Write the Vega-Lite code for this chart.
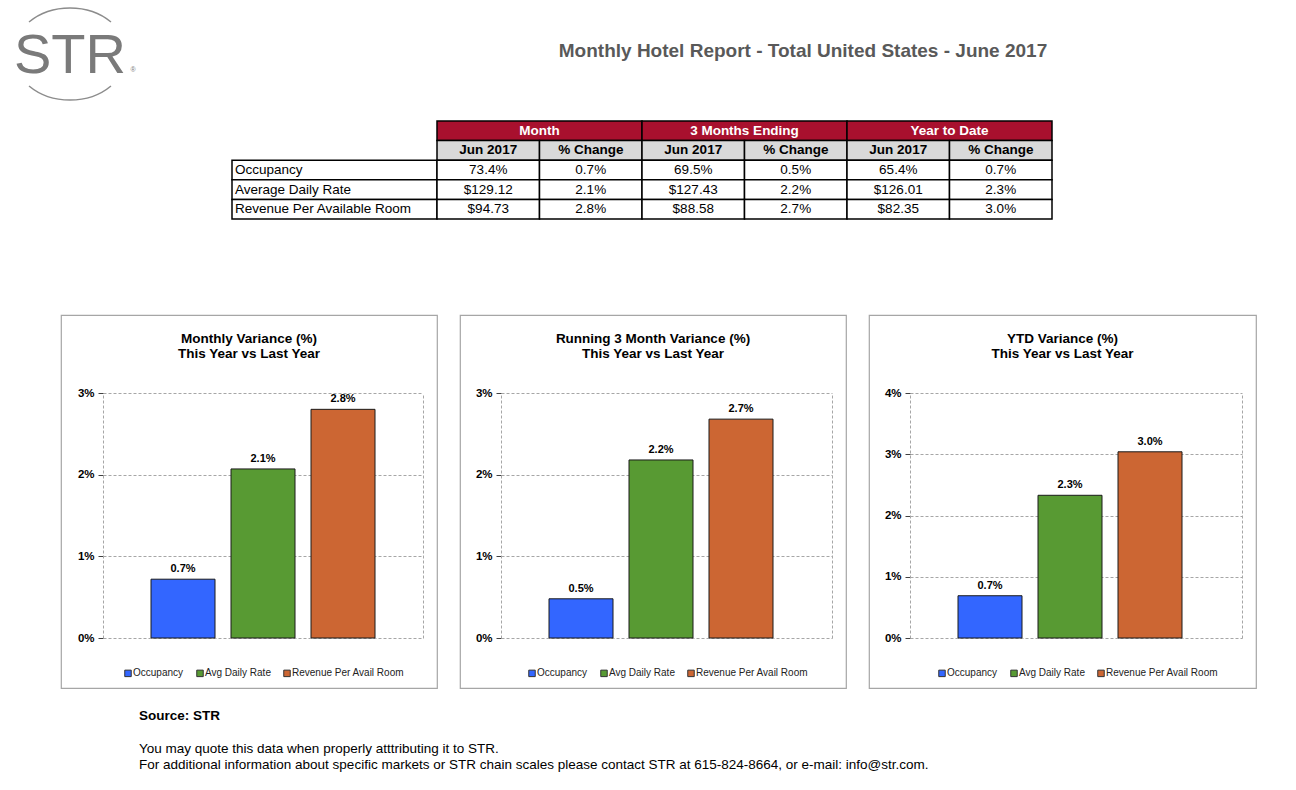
{
  "$schema": "https://vega.github.io/schema/vega-lite/v6.json",
  "padding": 0,
  "background": "white",
  "spacing": 12,
  "bounds": "full",
  "config": {
    "view": {"stroke": null},
    "font": "Liberation Sans",
    "title": {"fontSize": 13.5, "fontWeight": "bold", "color": "black", "lineHeight": 15}
  },
  "vconcat": [
    {
      "hconcat": [
        {
          "width": 140, "height": 108,
          "data": {"values": [{"name": "STR"}]},
          "layer": [
            {"mark": {"type": "point", "shape": "M-0.719,-0.561 A1,0.807 0 0,1 0.719,-0.561 M-0.719,0.561 A1,0.807 0 0,0 0.719,0.561", "size": 12996, "filled": false, "stroke": "#8c8c8c", "strokeWidth": 1.5, "opacity": 1}, "encoding": {}},
            {"mark": {"type": "text", "fontSize": 56, "baseline": "alphabetic", "dy": 19, "color": "#7a7a7a"}, "encoding": {"text": {"field": "name"}}},
            {"mark": {"type": "text", "text": "®", "fontSize": 7, "dx": 63, "dy": 16, "color": "#7a7a7a"}, "encoding": {}}
          ]
        },
        {
          "width": 986, "height": 102,
          "data": {"values": [{"t": "Monthly Hotel Report - Total United States - June 2017"}]},
          "mark": {"type": "text", "fontSize": 19, "fontWeight": "bold", "color": "#595959"},
          "encoding": {"text": {"field": "t"}}
        }
      ],
      "spacing": 170,
      "bounds": "flush"
    },
    {
      "hconcat": [
        {"width": 232, "height": 1, "data": {"values": []}, "mark": "point"},
        {
          "width": 205, "height": 181,
          "data": {"values": [
            {"row": "r1", "label": "Occupancy"},
            {"row": "r2", "label": "Average Daily Rate"},
            {"row": "r3", "label": "Revenue Per Available Room"}
          ]},
          "encoding": {"y": {"field": "row", "type": "nominal", "scale": {"domain": ["g", "h", "r1", "r2", "r3"], "range": [0, 98], "paddingInner": 0, "paddingOuter": 0}, "axis": null}},
          "layer": [
            {"mark": {"type": "rect", "fill": "white", "stroke": "black", "strokeWidth": 1.5},
             "encoding": {"x": {"datum": "lbl", "type": "nominal", "scale": {"paddingInner": 0, "paddingOuter": 0}, "axis": null}}},
            {"mark": {"type": "text", "align": "left", "dx": 3, "fontSize": 13.5, "color": "black"},
             "encoding": {"x": {"datum": "lbl", "type": "nominal", "bandPosition": 0, "axis": null}, "text": {"field": "label"}}}
          ]
        },
        {
          "width": 615, "height": 181,
          "resolve": {"scale": {"x": "independent"}},
          "encoding": {"y": {"field": "row", "type": "nominal", "scale": {"domain": ["g", "h", "r1", "r2", "r3"], "range": [0, 98], "paddingInner": 0, "paddingOuter": 0}, "axis": null}},
          "layer": [
            {
              "data": {"values": [{"row": "g", "grp": "Month"}, {"row": "g", "grp": "3 Months Ending"}, {"row": "g", "grp": "Year to Date"}]},
              "mark": {"type": "rect", "fill": "#A8102E", "stroke": "black", "strokeWidth": 1.5},
              "encoding": {"x": {"field": "grp", "type": "nominal", "sort": null, "scale": {"domain": ["Month", "3 Months Ending", "Year to Date"], "paddingInner": 0, "paddingOuter": 0}, "axis": null}}
            },
            {
              "data": {"values": [{"row": "g", "grp": "Month"}, {"row": "g", "grp": "3 Months Ending"}, {"row": "g", "grp": "Year to Date"}]},
              "mark": {"type": "text", "color": "white", "fontWeight": "bold", "fontSize": 13.5},
              "encoding": {"x": {"field": "grp", "type": "nominal", "sort": null, "scale": {"domain": ["Month", "3 Months Ending", "Year to Date"], "paddingInner": 0, "paddingOuter": 0}, "axis": null}, "text": {"field": "grp"}}
            },
            {
              "data": {"name": "cells"},
              "mark": {"type": "rect", "stroke": "black", "strokeWidth": 1.5},
              "encoding": {
                "x": {"field": "col", "type": "nominal", "scale": {"domain": ["m1", "m2", "t1", "t2", "y1", "y2"], "paddingInner": 0, "paddingOuter": 0}, "axis": null},
                "fill": {"field": "row", "type": "nominal", "scale": {"domain": ["h", "r1", "r2", "r3"], "range": ["#D9D9D9", "white", "white", "white"]}, "legend": null}
              }
            },
            {
              "data": {"name": "cells"},
              "transform": [{"filter": "datum.row === 'h'"}],
              "mark": {"type": "text", "color": "black", "fontWeight": "bold", "fontSize": 13.5},
              "encoding": {"x": {"field": "col", "type": "nominal", "scale": {"domain": ["m1", "m2", "t1", "t2", "y1", "y2"], "paddingInner": 0, "paddingOuter": 0}, "axis": null}, "text": {"field": "t"}}
            },
            {
              "data": {"name": "cells"},
              "transform": [{"filter": "datum.row !== 'h'"}],
              "mark": {"type": "text", "color": "black", "fontSize": 13.5},
              "encoding": {"x": {"field": "col", "type": "nominal", "scale": {"domain": ["m1", "m2", "t1", "t2", "y1", "y2"], "paddingInner": 0, "paddingOuter": 0}, "axis": null}, "text": {"field": "t"}}
            }
          ]
        }
      ],
      "spacing": 0,
      "bounds": "flush"
    },
    {
      "hconcat": [
        {"width": 38, "height": 1, "data": {"values": []}, "mark": "point"},
        {
          "width": 376, "height": 373,
          "view": {"stroke": "#a6a6a6", "strokeWidth": 1.2},
          "title": {"text": ["Monthly Variance (%)", "This Year vs Last Year"], "offset": -45},
          "data": {"name": "monthly"},
          "resolve": {"axis": {"y": "independent"}},
          "layer": [
            {
              "mark": {"type": "bar", "stroke": "#1a1a1a", "strokeWidth": 1},
              "encoding": {
                "x": {"field": "cat", "type": "nominal", "scale": {"range": [42, 362], "paddingInner": 0, "paddingOuter": 0}, "axis": {"orient": "bottom", "offset": -50, "labels": false, "title": null, "domainColor": "#a6a6a6", "domainDash": [3, 2], "tickColor": "#404040", "tickSize": 4}},
                "xOffset": {"field": "series", "type": "nominal", "sort": ["Occupancy", "Avg Daily Rate", "Revenue Per Avail Room"], "scale": {"paddingInner": 0.2, "paddingOuter": 0.6}},
                "y": {"field": "value", "type": "quantitative", "scale": {"domain": [0, 0.03], "range": [323, 78], "nice": false}, "axis": {"orient": "left", "offset": -42, "values": [0, 0.01, 0.02, 0.03], "format": ".0%", "title": null, "grid": true, "gridColor": "#a6a6a6", "gridDash": [3, 2], "domainColor": "#a6a6a6", "domainDash": [3, 2], "tickColor": "#404040", "tickSize": 5, "labelFontWeight": "bold", "labelFontSize": 11.5, "labelColor": "black", "labelPadding": 4}},
                "color": {"field": "series", "type": "nominal", "scale": {"domain": ["Occupancy", "Avg Daily Rate", "Revenue Per Avail Room"], "range": ["#3366FF", "#589A33", "#CC6633"]}, "legend": {"orient": "none", "legendX": 62, "legendY": 353, "direction": "horizontal", "title": null, "padding": 0, "symbolType": "square", "symbolSize": 42, "symbolStrokeColor": "#333333", "symbolStrokeWidth": 1, "labelFontSize": 10, "labelColor": "#222222", "labelOffset": 0, "columnPadding": 10}}
              }
            },
            {
              "mark": {"type": "text", "baseline": "bottom", "dy": -5, "fontWeight": "bold", "fontSize": 11, "color": "black"},
              "encoding": {
                "x": {"field": "cat", "type": "nominal", "axis": null},
                "xOffset": {"field": "series", "type": "nominal", "sort": ["Occupancy", "Avg Daily Rate", "Revenue Per Avail Room"]},
                "y": {"field": "value", "type": "quantitative", "axis": null},
                "text": {"field": "value", "format": ".1%"}
              }
            },
            {
              "mark": {"type": "point", "opacity": 0},
              "encoding": {"y": {"field": "value", "type": "quantitative", "axis": {"orient": "right", "offset": -14, "labels": false, "ticks": false, "grid": false, "title": null, "domainColor": "#a6a6a6", "domainDash": [3, 2]}}}
            }
          ]
        },
        {
          "width": 386, "height": 373,
          "view": {"stroke": "#a6a6a6", "strokeWidth": 1.2},
          "title": {"text": ["Running 3 Month Variance (%)", "This Year vs Last Year"], "offset": -45},
          "data": {"name": "running3"},
          "resolve": {"axis": {"y": "independent"}},
          "layer": [
            {
              "mark": {"type": "bar", "stroke": "#1a1a1a", "strokeWidth": 1},
              "encoding": {
                "x": {"field": "cat", "type": "nominal", "scale": {"range": [41, 372], "paddingInner": 0, "paddingOuter": 0}, "axis": {"orient": "bottom", "offset": -50, "labels": false, "title": null, "domainColor": "#a6a6a6", "domainDash": [3, 2], "tickColor": "#404040", "tickSize": 4}},
                "xOffset": {"field": "series", "type": "nominal", "sort": ["Occupancy", "Avg Daily Rate", "Revenue Per Avail Room"], "scale": {"paddingInner": 0.2, "paddingOuter": 0.6}},
                "y": {"field": "value", "type": "quantitative", "scale": {"domain": [0, 0.03], "range": [323, 78], "nice": false}, "axis": {"orient": "left", "offset": -41, "values": [0, 0.01, 0.02, 0.03], "format": ".0%", "title": null, "grid": true, "gridColor": "#a6a6a6", "gridDash": [3, 2], "domainColor": "#a6a6a6", "domainDash": [3, 2], "tickColor": "#404040", "tickSize": 5, "labelFontWeight": "bold", "labelFontSize": 11.5, "labelColor": "black", "labelPadding": 4}},
                "color": {"field": "series", "type": "nominal", "scale": {"domain": ["Occupancy", "Avg Daily Rate", "Revenue Per Avail Room"], "range": ["#3366FF", "#589A33", "#CC6633"]}, "legend": {"orient": "none", "legendX": 67, "legendY": 353, "direction": "horizontal", "title": null, "padding": 0, "symbolType": "square", "symbolSize": 42, "symbolStrokeColor": "#333333", "symbolStrokeWidth": 1, "labelFontSize": 10, "labelColor": "#222222", "labelOffset": 0, "columnPadding": 10}}
              }
            },
            {
              "mark": {"type": "text", "baseline": "bottom", "dy": -5, "fontWeight": "bold", "fontSize": 11, "color": "black"},
              "encoding": {
                "x": {"field": "cat", "type": "nominal", "axis": null},
                "xOffset": {"field": "series", "type": "nominal", "sort": ["Occupancy", "Avg Daily Rate", "Revenue Per Avail Room"]},
                "y": {"field": "value", "type": "quantitative", "axis": null},
                "text": {"field": "value", "format": ".1%"}
              }
            },
            {
              "mark": {"type": "point", "opacity": 0},
              "encoding": {"y": {"field": "value", "type": "quantitative", "axis": {"orient": "right", "offset": -14, "labels": false, "ticks": false, "grid": false, "title": null, "domainColor": "#a6a6a6", "domainDash": [3, 2]}}}
            }
          ]
        },
        {
          "width": 387, "height": 373,
          "view": {"stroke": "#a6a6a6", "strokeWidth": 1.2},
          "title": {"text": ["YTD Variance (%)", "This Year vs Last Year"], "offset": -45},
          "data": {"name": "ytd"},
          "resolve": {"axis": {"y": "independent"}},
          "layer": [
            {
              "mark": {"type": "bar", "stroke": "#1a1a1a", "strokeWidth": 1},
              "encoding": {
                "x": {"field": "cat", "type": "nominal", "scale": {"range": [41, 373], "paddingInner": 0, "paddingOuter": 0}, "axis": {"orient": "bottom", "offset": -50, "labels": false, "title": null, "domainColor": "#a6a6a6", "domainDash": [3, 2], "tickColor": "#404040", "tickSize": 4}},
                "xOffset": {"field": "series", "type": "nominal", "sort": ["Occupancy", "Avg Daily Rate", "Revenue Per Avail Room"], "scale": {"paddingInner": 0.2, "paddingOuter": 0.6}},
                "y": {"field": "value", "type": "quantitative", "scale": {"domain": [0, 0.04], "range": [323, 78], "nice": false}, "axis": {"orient": "left", "offset": -41, "values": [0, 0.01, 0.02, 0.03, 0.04], "format": ".0%", "title": null, "grid": true, "gridColor": "#a6a6a6", "gridDash": [3, 2], "domainColor": "#a6a6a6", "domainDash": [3, 2], "tickColor": "#404040", "tickSize": 5, "labelFontWeight": "bold", "labelFontSize": 11.5, "labelColor": "black", "labelPadding": 4}},
                "color": {"field": "series", "type": "nominal", "scale": {"domain": ["Occupancy", "Avg Daily Rate", "Revenue Per Avail Room"], "range": ["#3366FF", "#589A33", "#CC6633"]}, "legend": {"orient": "none", "legendX": 68, "legendY": 353, "direction": "horizontal", "title": null, "padding": 0, "symbolType": "square", "symbolSize": 42, "symbolStrokeColor": "#333333", "symbolStrokeWidth": 1, "labelFontSize": 10, "labelColor": "#222222", "labelOffset": 0, "columnPadding": 10}}
              }
            },
            {
              "mark": {"type": "text", "baseline": "bottom", "dy": -5, "fontWeight": "bold", "fontSize": 11, "color": "black"},
              "encoding": {
                "x": {"field": "cat", "type": "nominal", "axis": null},
                "xOffset": {"field": "series", "type": "nominal", "sort": ["Occupancy", "Avg Daily Rate", "Revenue Per Avail Room"]},
                "y": {"field": "value", "type": "quantitative", "axis": null},
                "text": {"field": "value", "format": ".1%"}
              }
            },
            {
              "mark": {"type": "point", "opacity": 0},
              "encoding": {"y": {"field": "value", "type": "quantitative", "axis": {"orient": "right", "offset": -14, "labels": false, "ticks": false, "grid": false, "title": null, "domainColor": "#a6a6a6", "domainDash": [3, 2]}}}
            }
          ]
        }
      ],
      "spacing": 23,
      "bounds": "flush",
      "resolve": {"scale": {"color": "independent"}, "legend": {"color": "independent"}}
    },
    {
      "hconcat": [
        {"width": 139, "height": 1, "data": {"values": []}, "mark": "point"},
        {
          "width": 1000, "height": 90,
          "encoding": {
            "y": {"field": "k", "type": "ordinal", "scale": {"type": "point", "domain": ["s", "x", "l1", "l2"], "range": [15, 64], "padding": 0}, "axis": null},
            "x": {"datum": 0, "type": "quantitative", "scale": {"domain": [0, 1]}, "axis": null}
          },
          "layer": [
            {"data": {"values": [{"k": "s", "t": "Source: STR"}]}, "mark": {"type": "text", "align": "left", "fontWeight": "bold", "fontSize": 13.5, "color": "black"}, "encoding": {"text": {"field": "t"}}},
            {"data": {"values": [
              {"k": "l1", "t": "You may quote this data when properly atttributing it to STR."},
              {"k": "l2", "t": "For additional information about specific markets or STR chain scales please contact STR at 615-824-8664, or e-mail: info@str.com."}
            ]}, "mark": {"type": "text", "align": "left", "fontSize": 13.5, "color": "black"}, "encoding": {"text": {"field": "t"}}}
          ]
        }
      ],
      "spacing": 0,
      "bounds": "flush"
    }
  ],
  "datasets": {
    "cells": [
      {"row": "h", "col": "m1", "t": "Jun 2017"}, {"row": "h", "col": "m2", "t": "% Change"},
      {"row": "h", "col": "t1", "t": "Jun 2017"}, {"row": "h", "col": "t2", "t": "% Change"},
      {"row": "h", "col": "y1", "t": "Jun 2017"}, {"row": "h", "col": "y2", "t": "% Change"},
      {"row": "r1", "col": "m1", "t": "73.4%"}, {"row": "r1", "col": "m2", "t": "0.7%"},
      {"row": "r1", "col": "t1", "t": "69.5%"}, {"row": "r1", "col": "t2", "t": "0.5%"},
      {"row": "r1", "col": "y1", "t": "65.4%"}, {"row": "r1", "col": "y2", "t": "0.7%"},
      {"row": "r2", "col": "m1", "t": "$129.12"}, {"row": "r2", "col": "m2", "t": "2.1%"},
      {"row": "r2", "col": "t1", "t": "$127.43"}, {"row": "r2", "col": "t2", "t": "2.2%"},
      {"row": "r2", "col": "y1", "t": "$126.01"}, {"row": "r2", "col": "y2", "t": "2.3%"},
      {"row": "r3", "col": "m1", "t": "$94.73"}, {"row": "r3", "col": "m2", "t": "2.8%"},
      {"row": "r3", "col": "t1", "t": "$88.58"}, {"row": "r3", "col": "t2", "t": "2.7%"},
      {"row": "r3", "col": "y1", "t": "$82.35"}, {"row": "r3", "col": "y2", "t": "3.0%"}
    ],
    "monthly": [
      {"cat": "This Year vs Last Year", "series": "Occupancy", "value": 0.0072},
      {"cat": "This Year vs Last Year", "series": "Avg Daily Rate", "value": 0.0207},
      {"cat": "This Year vs Last Year", "series": "Revenue Per Avail Room", "value": 0.028}
    ],
    "running3": [
      {"cat": "This Year vs Last Year", "series": "Occupancy", "value": 0.0048},
      {"cat": "This Year vs Last Year", "series": "Avg Daily Rate", "value": 0.0218},
      {"cat": "This Year vs Last Year", "series": "Revenue Per Avail Room", "value": 0.0268}
    ],
    "ytd": [
      {"cat": "This Year vs Last Year", "series": "Occupancy", "value": 0.0069},
      {"cat": "This Year vs Last Year", "series": "Avg Daily Rate", "value": 0.0233},
      {"cat": "This Year vs Last Year", "series": "Revenue Per Avail Room", "value": 0.0304}
    ]
  }
}
